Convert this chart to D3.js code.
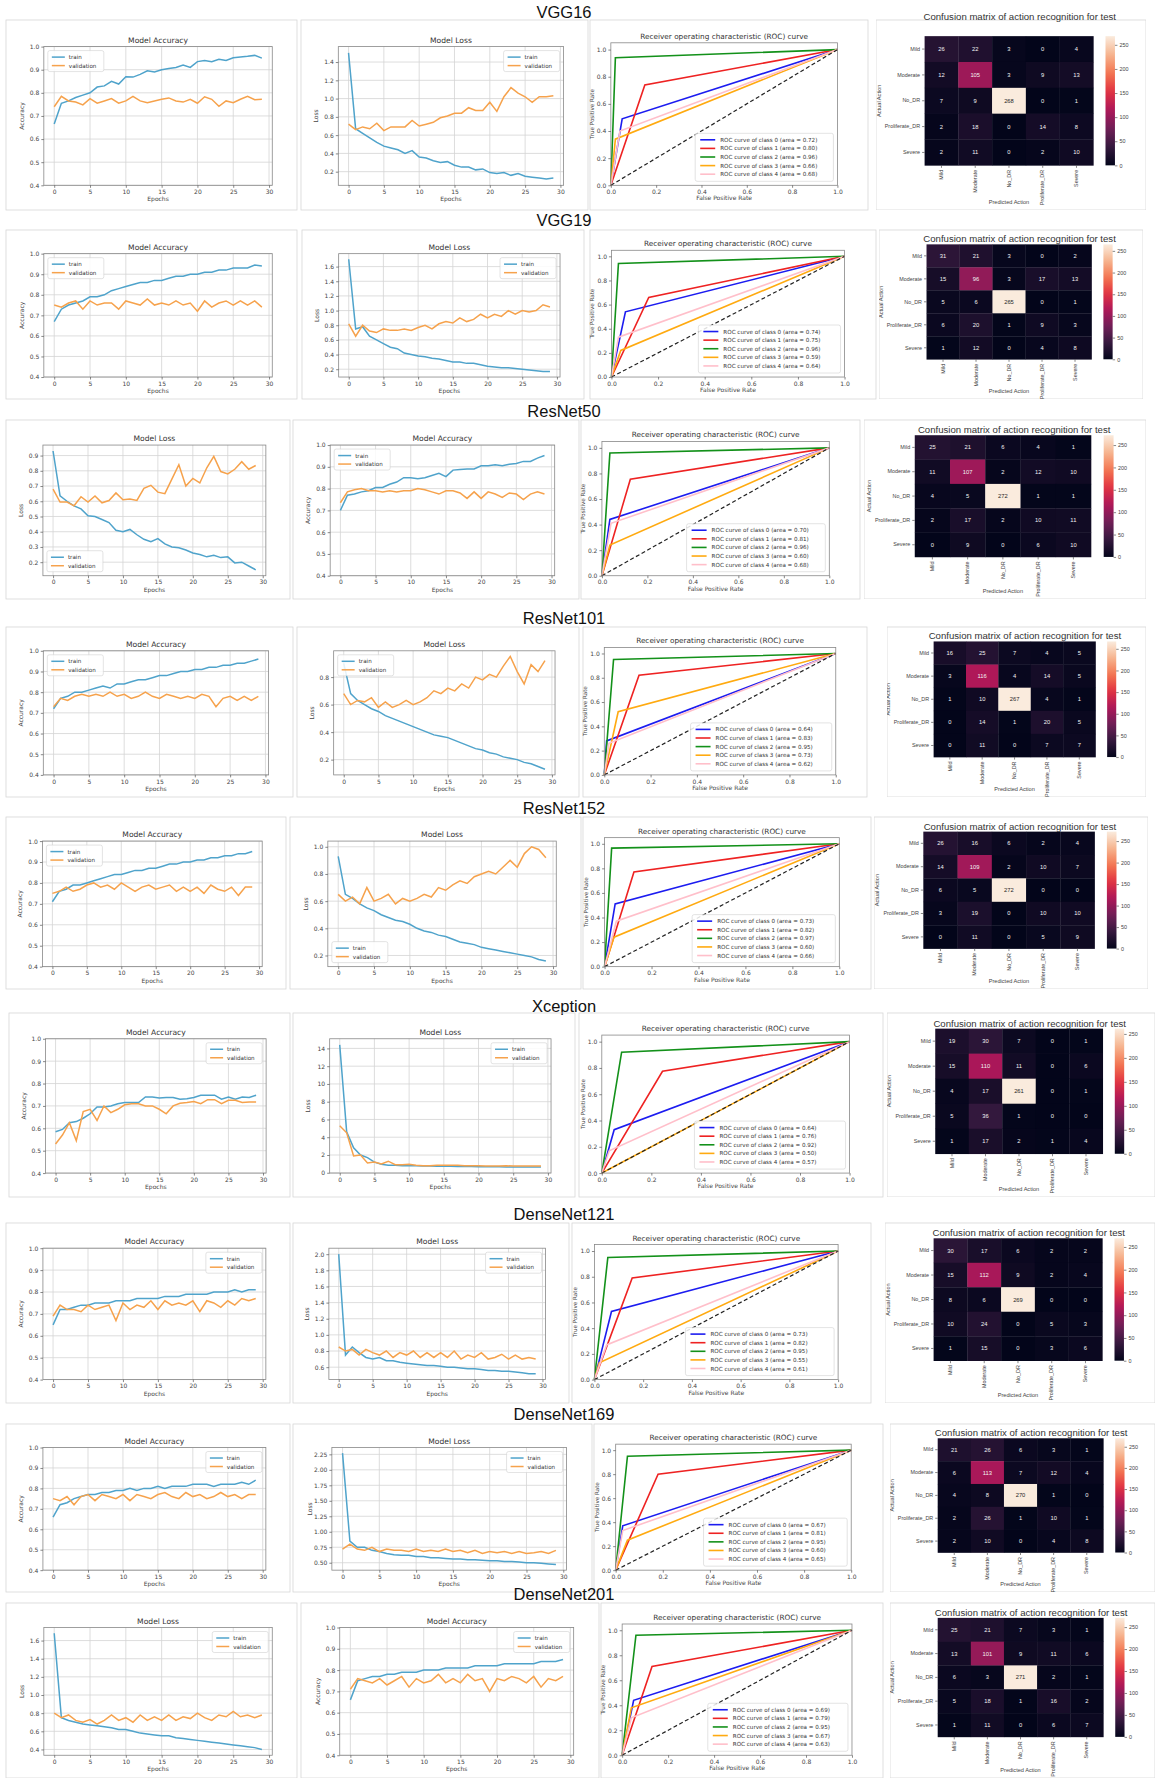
<!DOCTYPE html>
<html lang="en">
<head>
<meta charset="utf-8">
<title>Model comparison</title>
<script src="https://cdn.jsdelivr.net/npm/d3@7"></script>
<style>
  body { margin: 0; background: #fff; }
  svg text { font-family: "DejaVu Sans", sans-serif; }
</style>
</head>
<body>
<script>
// ---- data ----
var models = ["VGG16", "VGG19", "ResNet50", "ResNet101", "ResNet152", "Xception", "DenseNet121", "DenseNet169", "DenseNet201"];
var epochs = [0,1,2,3,4,5,6,7,8,9,10,11,12,13,14,15,16,17,18,19,20,21,22,23,24,25,26,27,28,29];

var accTrain = [
  [0.665,0.755,0.765,0.78,0.79,0.80,0.825,0.83,0.85,0.838,0.87,0.868,0.88,0.895,0.89,0.90,0.905,0.91,0.92,0.91,0.935,0.94,0.935,0.945,0.94,0.952,0.955,0.958,0.962,0.95],
  [0.67,0.73,0.75,0.76,0.77,0.79,0.79,0.80,0.82,0.83,0.84,0.85,0.86,0.86,0.87,0.87,0.88,0.89,0.89,0.90,0.90,0.91,0.91,0.92,0.92,0.93,0.93,0.93,0.945,0.94],
  [0.70,0.77,0.775,0.785,0.79,0.805,0.805,0.82,0.83,0.85,0.85,0.845,0.85,0.86,0.87,0.855,0.885,0.888,0.89,0.89,0.905,0.905,0.91,0.905,0.912,0.915,0.925,0.925,0.94,0.952],
  [0.72,0.77,0.78,0.80,0.80,0.81,0.82,0.83,0.82,0.84,0.84,0.85,0.86,0.86,0.87,0.88,0.88,0.89,0.90,0.90,0.91,0.91,0.92,0.92,0.93,0.93,0.94,0.94,0.95,0.96],
  [0.71,0.76,0.77,0.79,0.79,0.80,0.81,0.82,0.83,0.84,0.84,0.85,0.86,0.86,0.87,0.87,0.88,0.89,0.89,0.90,0.90,0.91,0.91,0.92,0.92,0.93,0.93,0.94,0.94,0.95],
  [0.585,0.595,0.625,0.63,0.645,0.665,0.695,0.695,0.70,0.71,0.715,0.715,0.715,0.74,0.74,0.735,0.738,0.738,0.73,0.732,0.738,0.748,0.748,0.748,0.73,0.74,0.73,0.74,0.738,0.748],
  [0.65,0.72,0.72,0.73,0.74,0.74,0.75,0.75,0.75,0.76,0.76,0.76,0.77,0.77,0.77,0.77,0.78,0.78,0.78,0.79,0.79,0.79,0.79,0.80,0.80,0.80,0.81,0.80,0.81,0.81],
  [0.66,0.72,0.73,0.75,0.76,0.77,0.77,0.78,0.78,0.79,0.79,0.80,0.79,0.80,0.80,0.81,0.80,0.81,0.81,0.81,0.82,0.82,0.82,0.81,0.82,0.82,0.82,0.83,0.82,0.84],
  [0.66,0.75,0.76,0.77,0.77,0.78,0.78,0.79,0.79,0.79,0.80,0.80,0.80,0.81,0.81,0.81,0.81,0.82,0.82,0.82,0.82,0.83,0.83,0.83,0.83,0.83,0.84,0.84,0.84,0.85]
];
var accVal = [
  [0.74,0.785,0.765,0.76,0.748,0.775,0.755,0.765,0.775,0.755,0.765,0.785,0.765,0.757,0.765,0.772,0.778,0.765,0.76,0.772,0.755,0.783,0.772,0.742,0.765,0.757,0.772,0.785,0.77,0.772],
  [0.75,0.74,0.76,0.77,0.73,0.77,0.75,0.76,0.76,0.73,0.77,0.76,0.75,0.78,0.75,0.76,0.75,0.77,0.75,0.76,0.72,0.77,0.74,0.76,0.77,0.75,0.77,0.75,0.77,0.74],
  [0.735,0.785,0.795,0.80,0.79,0.79,0.785,0.79,0.785,0.79,0.79,0.80,0.795,0.785,0.775,0.79,0.79,0.78,0.755,0.785,0.755,0.785,0.775,0.76,0.78,0.775,0.75,0.775,0.785,0.775],
  [0.73,0.77,0.76,0.78,0.79,0.78,0.79,0.78,0.80,0.78,0.79,0.77,0.78,0.80,0.78,0.77,0.79,0.78,0.77,0.78,0.77,0.79,0.78,0.73,0.77,0.78,0.76,0.78,0.76,0.78],
  [0.75,0.76,0.78,0.76,0.77,0.79,0.80,0.78,0.79,0.77,0.80,0.78,0.76,0.78,0.79,0.77,0.78,0.79,0.76,0.78,0.76,0.78,0.75,0.79,0.77,0.76,0.78,0.74,0.78,0.78],
  [0.53,0.57,0.625,0.545,0.675,0.685,0.635,0.70,0.67,0.685,0.705,0.71,0.71,0.70,0.70,0.685,0.665,0.70,0.712,0.715,0.72,0.71,0.728,0.728,0.71,0.725,0.725,0.715,0.718,0.718],
  [0.69,0.74,0.72,0.72,0.71,0.74,0.72,0.73,0.74,0.67,0.75,0.72,0.74,0.73,0.76,0.72,0.76,0.74,0.75,0.74,0.76,0.71,0.76,0.75,0.73,0.76,0.74,0.77,0.76,0.77],
  [0.75,0.74,0.76,0.72,0.76,0.77,0.74,0.77,0.76,0.75,0.77,0.74,0.77,0.76,0.75,0.77,0.78,0.76,0.75,0.78,0.76,0.77,0.75,0.76,0.78,0.76,0.77,0.75,0.77,0.77],
  [0.71,0.76,0.75,0.74,0.76,0.73,0.75,0.77,0.72,0.76,0.74,0.75,0.78,0.74,0.76,0.74,0.78,0.75,0.76,0.70,0.76,0.75,0.77,0.76,0.74,0.77,0.72,0.76,0.75,0.77]
];
var lossTrain = [
  [1.5,0.67,0.62,0.57,0.52,0.48,0.46,0.44,0.40,0.43,0.36,0.35,0.32,0.30,0.31,0.27,0.25,0.25,0.22,0.23,0.19,0.18,0.19,0.16,0.18,0.15,0.14,0.13,0.12,0.13],
  [1.7,0.75,0.78,0.65,0.60,0.55,0.50,0.48,0.42,0.40,0.38,0.37,0.35,0.34,0.32,0.30,0.30,0.28,0.28,0.26,0.24,0.23,0.22,0.22,0.21,0.20,0.19,0.18,0.17,0.17],
  [0.93,0.635,0.60,0.57,0.55,0.505,0.50,0.48,0.46,0.41,0.40,0.415,0.38,0.35,0.335,0.355,0.32,0.30,0.295,0.28,0.26,0.25,0.235,0.245,0.23,0.235,0.195,0.20,0.175,0.15],
  [0.90,0.68,0.63,0.60,0.57,0.55,0.52,0.50,0.48,0.46,0.44,0.42,0.40,0.38,0.37,0.36,0.34,0.32,0.30,0.28,0.27,0.25,0.24,0.22,0.21,0.20,0.18,0.17,0.15,0.13],
  [0.93,0.65,0.62,0.58,0.55,0.53,0.50,0.48,0.46,0.45,0.43,0.40,0.38,0.37,0.35,0.34,0.32,0.30,0.29,0.28,0.26,0.25,0.24,0.23,0.22,0.21,0.20,0.19,0.17,0.16],
  [14.4,4.6,2.8,2.0,1.7,1.2,0.95,0.85,0.85,0.80,0.80,0.78,0.75,0.75,0.72,0.72,0.72,0.70,0.70,0.70,0.68,0.68,0.68,0.68,0.66,0.66,0.66,0.65,0.65,0.65],
  [2.0,0.75,0.85,0.78,0.72,0.70,0.72,0.68,0.68,0.66,0.65,0.64,0.63,0.62,0.62,0.61,0.60,0.60,0.59,0.58,0.58,0.57,0.56,0.56,0.55,0.55,0.54,0.53,0.52,0.52],
  [2.27,0.85,0.75,0.75,0.70,0.68,0.65,0.63,0.62,0.62,0.60,0.60,0.58,0.58,0.57,0.56,0.56,0.55,0.55,0.54,0.53,0.53,0.52,0.52,0.51,0.50,0.50,0.49,0.48,0.47],
  [1.68,0.75,0.72,0.70,0.68,0.67,0.66,0.65,0.64,0.62,0.62,0.60,0.58,0.57,0.56,0.55,0.55,0.53,0.52,0.51,0.50,0.49,0.48,0.47,0.46,0.45,0.44,0.43,0.42,0.40]
];
var lossVal = [
  [0.72,0.66,0.69,0.67,0.73,0.65,0.69,0.69,0.69,0.76,0.70,0.72,0.74,0.79,0.81,0.84,0.84,0.90,0.87,0.87,0.96,0.86,1.02,1.12,1.06,1.02,0.96,1.02,1.02,1.03],
  [0.82,0.65,0.80,0.72,0.70,0.75,0.73,0.73,0.75,0.73,0.77,0.80,0.75,0.82,0.85,0.83,0.90,0.85,0.88,0.95,0.90,0.95,0.92,1.00,0.95,1.00,0.98,1.00,1.08,1.05],
  [0.68,0.595,0.595,0.57,0.63,0.595,0.635,0.59,0.605,0.655,0.61,0.615,0.605,0.685,0.705,0.66,0.65,0.745,0.84,0.70,0.75,0.72,0.82,0.895,0.795,0.78,0.81,0.86,0.81,0.835],
  [0.68,0.60,0.63,0.62,0.65,0.58,0.62,0.58,0.60,0.63,0.60,0.62,0.65,0.70,0.68,0.72,0.70,0.75,0.72,0.80,0.78,0.82,0.80,0.88,0.95,0.84,0.75,0.89,0.84,0.92],
  [0.65,0.60,0.63,0.58,0.70,0.60,0.62,0.65,0.58,0.62,0.60,0.62,0.65,0.63,0.70,0.68,0.72,0.75,0.73,0.78,0.80,0.82,0.80,0.85,0.90,0.85,0.95,1.00,0.98,0.92],
  [5.3,4.5,1.9,2.0,1.1,1.2,1.0,1.3,0.9,0.9,0.95,0.85,0.80,0.80,0.85,0.85,0.85,0.85,0.80,0.80,0.80,0.75,0.75,0.75,0.80,0.75,0.75,0.75,0.75,0.75],
  [0.85,0.80,0.82,0.75,0.82,0.78,0.75,0.80,0.72,0.78,0.75,0.80,0.72,0.78,0.72,0.78,0.72,0.80,0.70,0.75,0.72,0.78,0.70,0.72,0.76,0.70,0.75,0.70,0.72,0.70],
  [0.72,0.80,0.72,0.70,0.75,0.68,0.72,0.70,0.70,0.68,0.72,0.68,0.70,0.68,0.72,0.68,0.70,0.66,0.70,0.65,0.68,0.66,0.68,0.65,0.68,0.65,0.66,0.68,0.65,0.70],
  [0.80,0.75,0.78,0.72,0.70,0.73,0.68,0.72,0.78,0.72,0.75,0.70,0.78,0.72,0.76,0.72,0.78,0.72,0.76,0.74,0.80,0.75,0.72,0.78,0.76,0.82,0.76,0.78,0.75,0.78]
];
var lossTickStep = [0.2, 0.2, 0.1, 0.2, 0.2, 2, 0.2, 0.25, 0.2];
var lossTickFmt = [".1f", ".1f", ".1f", ".1f", ".1f", "d", ".1f", ".2f", ".1f"];
var accTicks = [0.4, 0.5, 0.6, 0.7, 0.8, 0.9, 1.0];
var epochTicks = [0, 5, 10, 15, 20, 25, 30];

// ROC: the single operating point of each class, and the areas in the legend
var rocFpr = [
  [0.05, 0.15, 0.02, 0.02, 0.04],
  [0.06, 0.16, 0.03, 0.04, 0.03],
  [0.035, 0.125, 0.035, 0.035, 0.04],
  [0.01, 0.15, 0.04, 0.06, 0.02],
  [0.045, 0.125, 0.03, 0.04, 0.05],
  [0.05, 0.245, 0.08, 0.5, 0.03],
  [0.07, 0.155, 0.055, 0.02, 0.05],
  [0.03, 0.18, 0.05, 0.05, 0.03],
  [0.05, 0.13, 0.06, 0.04, 0.04]
];
var rocTpr = [
  [0.49, 0.74, 0.94, 0.34, 0.40],
  [0.54, 0.66, 0.94, 0.22, 0.33],
  [0.44, 0.755, 0.96, 0.24, 0.41],
  [0.28, 0.82, 0.95, 0.52, 0.26],
  [0.51, 0.77, 0.965, 0.24, 0.37],
  [0.33, 0.775, 0.92, 0.5, 0.17],
  [0.53, 0.79, 0.95, 0.13, 0.27],
  [0.37, 0.80, 0.95, 0.25, 0.33],
  [0.44, 0.71, 0.96, 0.38, 0.30]
];
var rocArea = [
  ["0.72", "0.80", "0.96", "0.66", "0.68"],
  ["0.74", "0.75", "0.96", "0.59", "0.64"],
  ["0.70", "0.81", "0.96", "0.60", "0.68"],
  ["0.64", "0.83", "0.95", "0.73", "0.62"],
  ["0.73", "0.82", "0.97", "0.60", "0.66"],
  ["0.64", "0.76", "0.92", "0.50", "0.57"],
  ["0.73", "0.82", "0.95", "0.55", "0.61"],
  ["0.67", "0.81", "0.95", "0.60", "0.65"],
  ["0.69", "0.79", "0.95", "0.67", "0.63"]
];
var rocTicks = [0, 0.2, 0.4, 0.6, 0.8, 1.0];

var classNames = ["Mild", "Moderate", "No_DR", "Proliferate_DR", "Severe"];
var confusion = [
  [[26,22,3,0,4],[12,105,3,9,13],[7,9,268,0,1],[2,18,0,14,8],[2,11,0,2,10]],
  [[31,21,3,0,2],[15,96,3,17,13],[5,6,265,0,1],[6,20,1,9,3],[1,12,0,4,8]],
  [[25,21,6,4,1],[11,107,2,12,10],[4,5,272,1,1],[2,17,2,10,11],[0,9,0,6,10]],
  [[16,25,7,4,5],[3,116,4,14,5],[1,10,267,4,1],[0,14,1,20,5],[0,11,0,7,7]],
  [[26,16,6,2,4],[14,109,2,10,7],[6,5,272,0,0],[3,19,0,10,10],[0,11,0,5,9]],
  [[19,30,7,0,1],[15,110,11,0,6],[4,17,261,0,1],[5,36,1,0,0],[1,17,2,1,4]],
  [[30,17,6,2,2],[15,112,9,2,4],[8,6,269,0,0],[10,24,0,5,3],[1,15,0,3,6]],
  [[21,26,6,3,1],[6,113,7,12,4],[4,8,270,1,0],[2,26,1,10,1],[2,10,0,4,8]],
  [[25,21,7,3,1],[13,101,9,11,6],[6,3,271,2,1],[5,18,1,16,2],[1,11,0,6,7]]
];
var cbTicks = [0, 50, 100, 150, 200, 250];

// ---- layout of the collage ----
var rowTitleY = [12, 220, 411, 618, 808, 1006, 1214, 1414, 1594];
var rowY = [[20,210],[230,399],[420,599],[627,797],[817,989],[1013,1197],[1223,1403],[1424,1592],[1603,1778]];
var panelX = [
  [[6,297],[301,588],[590,868],[876,1146]],
  [[6,297],[302,584],[590,876],[879,1143]],
  [[6,290],[293,579],[581,860],[864,1146]],
  [[6,293],[297,579],[583,867],[887,1146]],
  [[6,286],[290,581],[583,871],[874,1148]],
  [[9,290],[293,575],[579,883],[887,1155]],
  [[6,290],[293,569],[572,871],[885,1155]],
  [[6,290],[293,592],[594,883],[890,1155]],
  [[6,297],[301,599],[601,883],[890,1155]]
];
var cmTitleGap = [16, 2, 2, 2, 2, 2, 2, 2, 2];
var lossFirst = [false, false, true, false, false, false, false, false, true];
var accLegendPos = ["ul", "ul", "ul", "ul", "ul", "ur", "ur", "ur", "ur"];
var lossLegendPos = ["ur", "ur", "ll", "ul", "ll", "ur", "ur", "ur", "ur"];

var trainColor = "#4fa3cb", valColor = "#f6a24c";
var rocColors = ["#1c1cf0", "#ee2222", "#13911a", "#ffaa10", "#ffbfca"];

var rocket = d3.scaleLinear()
  .domain([0, 1/7, 2/7, 3/7, 4/7, 5/7, 6/7, 1])
  .range(["#03051a", "#35193e", "#701f57", "#ad1759", "#e13342", "#f37651", "#f6b48f", "#faebdd"])
  .interpolate(d3.interpolateRgb);

var W = 1156, H = 1778;
var svg = d3.select("body").append("svg")
  .attr("width", W).attr("height", H).style("display", "block");
svg.append("rect").attr("width", W).attr("height", H).attr("fill", "#fff");

var defs = svg.append("defs");
var grad = defs.append("linearGradient").attr("id", "rocketGrad")
  .attr("x1", 0).attr("y1", 1).attr("x2", 0).attr("y2", 0);
grad.selectAll("stop").data(d3.range(0, 1.001, 0.05)).join("stop")
  .attr("offset", function (d) { return d; })
  .attr("stop-color", function (d) { return rocket(d); });

function styleAxis(a, size) {
  a.select(".domain").remove();
  a.selectAll(".tick line").attr("stroke", "#555").attr("stroke-width", 0.7);
  a.selectAll(".tick text").attr("fill", "#444").style("font-size", size + "px");
}

function panelBorder(g, x0, x1, y0, y1) {
  g.append("rect").attr("x", x0).attr("y", y0).attr("width", x1 - x0).attr("height", y1 - y0)
    .attr("fill", "none").attr("stroke", "#d6d6d6").attr("stroke-width", 0.8);
}

function lineChart(g, x0, x1, y0, y1, train, val, kind, legendPos, step, fmt) {
  var w = x1 - x0, h = y1 - y0;
  var L = x0 + 0.13 * w, R = x1 - 0.085 * w, T = y0 + 0.14 * h, B = y1 - 0.13 * h;
  var x = d3.scaleLinear().domain([-1.45, 30.45]).range([L, R]);
  var yd, yt;
  if (kind === "acc") {
    yd = [0.4, 1.0];
    yt = accTicks;
  } else {
    var e = d3.extent(train.concat(val)), p = (e[1] - e[0]) * 0.05;
    yd = [e[0] - p, e[1] + p];
    yt = d3.range(Math.ceil(yd[0] / step - 1e-9), Math.floor(yd[1] / step + 1e-9) + 1)
      .map(function (k) { return +(k * step).toFixed(4); });
  }
  var y = d3.scaleLinear().domain(yd).range([B, T]);

  panelBorder(g, x0, x1, y0, y1);
  g.append("g").selectAll("line").data(epochTicks).join("line")
    .attr("x1", function (d) { return x(d); }).attr("x2", function (d) { return x(d); })
    .attr("y1", T).attr("y2", B).attr("stroke", "#d4d4d4").attr("stroke-width", 0.8);
  g.append("g").selectAll("line").data(yt).join("line")
    .attr("y1", function (d) { return y(d); }).attr("y2", function (d) { return y(d); })
    .attr("x1", L).attr("x2", R).attr("stroke", "#d4d4d4").attr("stroke-width", 0.8);

  var line = d3.line().x(function (d, i) { return x(epochs[i]); }).y(function (d) { return y(d); });
  g.append("path").datum(train).attr("d", line).attr("fill", "none")
    .attr("stroke", trainColor).attr("stroke-width", 1.5);
  g.append("path").datum(val).attr("d", line).attr("fill", "none")
    .attr("stroke", valColor).attr("stroke-width", 1.5);

  g.append("rect").attr("x", L).attr("y", T).attr("width", R - L).attr("height", B - T)
    .attr("fill", "none").attr("stroke", "#888").attr("stroke-width", 0.8);

  var ax = g.append("g").attr("transform", "translate(0," + B + ")")
    .call(d3.axisBottom(x).tickValues(epochTicks).tickSize(2.5).tickPadding(2).tickFormat(d3.format("d")));
  styleAxis(ax, 6);
  var ay = g.append("g").attr("transform", "translate(" + L + ",0)")
    .call(d3.axisLeft(y).tickValues(yt).tickSize(2.5).tickPadding(2).tickFormat(d3.format(kind === "acc" ? ".1f" : fmt)));
  styleAxis(ay, 6);

  g.append("text").attr("x", (L + R) / 2).attr("y", T - 4).attr("text-anchor", "middle")
    .attr("fill", "#333").style("font-size", "7.6px")
    .text(kind === "acc" ? "Model Accuracy" : "Model Loss");
  g.append("text").attr("x", (L + R) / 2).attr("y", B + 16).attr("text-anchor", "middle")
    .attr("fill", "#444").style("font-size", "6px").text("Epochs");
  g.append("text").attr("transform", "translate(" + (L - 20) + "," + ((T + B) / 2) + ") rotate(-90)")
    .attr("text-anchor", "middle").attr("fill", "#444").style("font-size", "6px")
    .text(kind === "acc" ? "Accuracy" : "Loss");

  // legend
  var lw = 56, lh = 21, lx, ly;
  if (legendPos === "ul") { lx = L + 4; ly = T + 4; }
  else if (legendPos === "ur") { lx = R - 4 - lw; ly = T + 4; }
  else { lx = L + 4; ly = B - 4 - lh; }
  var lg = g.append("g");
  lg.append("rect").attr("x", lx).attr("y", ly).attr("width", lw).attr("height", lh).attr("rx", 2)
    .attr("fill", "#fff").attr("fill-opacity", 0.85).attr("stroke", "#d0d0d0").attr("stroke-width", 0.6);
  [["train", trainColor], ["validation", valColor]].forEach(function (it, i) {
    var yy = ly + 6.5 + i * 8.5;
    lg.append("line").attr("x1", lx + 4).attr("x2", lx + 17).attr("y1", yy).attr("y2", yy)
      .attr("stroke", it[1]).attr("stroke-width", 1.5);
    lg.append("text").attr("x", lx + 21).attr("y", yy + 2).attr("fill", "#333")
      .style("font-size", "5.6px").text(it[0]);
  });
}

function rocChart(g, x0, x1, y0, y1, fpr, tpr, area) {
  var w = x1 - x0, h = y1 - y0;
  var L = x0 + 0.075 * w, R = x1 - 0.11 * w, T = y0 + 0.12 * h, B = y1 - 0.13 * h;
  var x = d3.scaleLinear().domain([0, 1]).range([L, R]);
  var y = d3.scaleLinear().domain([0, 1.05]).range([B, T]);
  panelBorder(g, x0, x1, y0, y1);

  var line = d3.line().x(function (d) { return x(d[0]); }).y(function (d) { return y(d[1]); });
  fpr.forEach(function (f, i) {
    g.append("path").datum([[0, 0], [f, tpr[i]], [1, 1]]).attr("d", line)
      .attr("fill", "none").attr("stroke", rocColors[i]).attr("stroke-width", 1.6);
  });
  g.append("path").datum([[0, 0], [1, 1]]).attr("d", line).attr("fill", "none")
    .attr("stroke", "#222").attr("stroke-width", 1.2).attr("stroke-dasharray", "4,2.5");

  g.append("rect").attr("x", L).attr("y", T).attr("width", R - L).attr("height", B - T)
    .attr("fill", "none").attr("stroke", "#888").attr("stroke-width", 0.8);
  var ax = g.append("g").attr("transform", "translate(0," + B + ")")
    .call(d3.axisBottom(x).tickValues(rocTicks).tickSize(2.5).tickPadding(2).tickFormat(d3.format(".1f")));
  styleAxis(ax, 6);
  var ay = g.append("g").attr("transform", "translate(" + L + ",0)")
    .call(d3.axisLeft(y).tickValues(rocTicks).tickSize(2.5).tickPadding(2).tickFormat(d3.format(".1f")));
  styleAxis(ay, 6);

  g.append("text").attr("x", (L + R) / 2).attr("y", T - 4).attr("text-anchor", "middle")
    .attr("fill", "#333").style("font-size", "7.3px").text("Receiver operating characteristic (ROC) curve");
  g.append("text").attr("x", (L + R) / 2).attr("y", B + 15).attr("text-anchor", "middle")
    .attr("fill", "#444").style("font-size", "6px").text("False Positive Rate");
  g.append("text").attr("transform", "translate(" + (L - 17) + "," + ((T + B) / 2) + ") rotate(-90)")
    .attr("text-anchor", "middle").attr("fill", "#444").style("font-size", "5.6px").text("True Positive Rate");

  var lw = 0.61 * (R - L), rh = 8.6, lh = rh * 5 + 5;
  var lx = R - 4 - lw, ly = B - 4 - lh;
  var lg = g.append("g");
  lg.append("rect").attr("x", lx).attr("y", ly).attr("width", lw).attr("height", lh).attr("rx", 2)
    .attr("fill", "#fff").attr("fill-opacity", 0.85).attr("stroke", "#d0d0d0").attr("stroke-width", 0.6);
  area.forEach(function (a, i) {
    var yy = ly + 6.5 + i * rh;
    lg.append("line").attr("x1", lx + 5).attr("x2", lx + 20).attr("y1", yy).attr("y2", yy)
      .attr("stroke", rocColors[i]).attr("stroke-width", 1.6);
    lg.append("text").attr("x", lx + 25).attr("y", yy + 2).attr("fill", "#333")
      .style("font-size", "5.6px").text("ROC curve of class " + i + " (area = " + a + ")");
  });
}

function cmChart(g, x0, x1, y0, y1, m, titleGap) {
  var w = x1 - x0, h = y1 - y0;
  var HL = x0 + 0.18 * w, HR = x0 + 0.805 * w, HT = y0 + 0.085 * h, HB = y1 - 0.235 * h;
  var cbL = x0 + 0.85 * w, cbW = 0.035 * w;
  panelBorder(g, x0, x1, y0, y1);
  var flat = [].concat.apply([], m);
  var vmin = d3.min(flat), vmax = d3.max(flat);
  var col = function (v) { return rocket((v - vmin) / (vmax - vmin)); };
  var x = d3.scaleBand().domain(classNames).range([HL, HR]);
  var y = d3.scaleBand().domain(classNames).range([HT, HB]);
  var cells = [];
  m.forEach(function (row, r) { row.forEach(function (v, c) { cells.push({ r: r, c: c, v: v }); }); });
  var font = "Liberation Sans, Arial, sans-serif";

  g.append("g").selectAll("rect").data(cells).join("rect")
    .attr("x", function (d) { return x(classNames[d.c]); })
    .attr("y", function (d) { return y(classNames[d.r]); })
    .attr("width", x.bandwidth() + 0.3).attr("height", y.bandwidth() + 0.3)
    .attr("fill", function (d) { return col(d.v); });
  g.append("g").selectAll("text").data(cells).join("text")
    .attr("x", function (d) { return x(classNames[d.c]) + x.bandwidth() / 2; })
    .attr("y", function (d) { return y(classNames[d.r]) + y.bandwidth() / 2 + 2; })
    .attr("text-anchor", "middle").style("font-size", "5.8px").style("font-family", font)
    .attr("fill", function (d) { return d3.hsl(col(d.v)).l > 0.6 ? "#262626" : "#f2f2f2"; })
    .text(function (d) { return d.v; });

  var ay = g.append("g").attr("transform", "translate(" + HL + ",0)")
    .call(d3.axisLeft(y).tickSize(2.5).tickPadding(2));
  styleAxis(ay, 5.4);
  ay.selectAll(".tick text").style("font-family", font);
  var ax = g.append("g").attr("transform", "translate(0," + HB + ")")
    .call(d3.axisBottom(x).tickSize(2.5).tickPadding(2));
  styleAxis(ax, 5.4);
  ax.selectAll(".tick text").style("font-family", font)
    .attr("transform", "rotate(-90)").attr("text-anchor", "end")
    .attr("x", -4.5).attr("y", 0).attr("dy", "0.32em");

  var cb = d3.scaleLinear().domain([vmin, vmax]).range([HB, HT]);
  g.append("rect").attr("x", cbL).attr("y", HT).attr("width", cbW).attr("height", HB - HT)
    .attr("fill", "url(#rocketGrad)");
  var ac = g.append("g").attr("transform", "translate(" + (cbL + cbW) + ",0)")
    .call(d3.axisRight(cb).tickValues(cbTicks).tickSize(2.5).tickPadding(2));
  styleAxis(ac, 5.4);
  ac.selectAll(".tick text").style("font-family", font);

  g.append("text").attr("x", (HL + cbL + cbW) / 2).attr("y", HT - titleGap).attr("text-anchor", "middle")
    .attr("fill", "#333").style("font-size", "9.6px").style("font-family", font)
    .text("Confusion matrix of action recognition for test");
  g.append("text").attr("x", (HL + HR) / 2).attr("y", y1 - 6).attr("text-anchor", "middle")
    .attr("fill", "#444").style("font-size", "5.6px").style("font-family", font).text("Predicted Action");
  g.append("text").attr("transform", "translate(" + (HL - 44) + "," + ((HT + HB) / 2) + ") rotate(-90)")
    .attr("text-anchor", "middle").attr("fill", "#444").style("font-size", "5.6px")
    .style("font-family", font).text("Actual Action");
}

models.forEach(function (name, r) {
  var y0 = rowY[r][0], y1 = rowY[r][1], px = panelX[r];
  var row = svg.append("g");
  row.append("text").attr("x", 564).attr("y", rowTitleY[r] + 6).attr("text-anchor", "middle")
    .style("font-family", "Liberation Sans, Arial, sans-serif").style("font-size", "16.5px")
    .attr("fill", "#111").text(name);

  var accPanel = lossFirst[r] ? px[1] : px[0];
  var lossPanel = lossFirst[r] ? px[0] : px[1];
  lineChart(row.append("g"), accPanel[0], accPanel[1], y0, y1, accTrain[r], accVal[r], "acc", accLegendPos[r]);
  lineChart(row.append("g"), lossPanel[0], lossPanel[1], y0, y1, lossTrain[r], lossVal[r], "loss",
    lossLegendPos[r], lossTickStep[r], lossTickFmt[r]);
  rocChart(row.append("g"), px[2][0], px[2][1], y0, y1, rocFpr[r], rocTpr[r], rocArea[r]);
  var cmG = row.append("g");
  var clipId = "clip" + r;
  defs.append("clipPath").attr("id", clipId).append("rect")
    .attr("x", px[3][0]).attr("y", y0 - 8).attr("width", px[3][1] - px[3][0]).attr("height", y1 - y0 + 8);
  cmG.attr("clip-path", "url(#" + clipId + ")");
  cmChart(cmG, px[3][0], px[3][1], y0, y1, confusion[r], cmTitleGap[r]);
});
</script>
</body>
</html>
